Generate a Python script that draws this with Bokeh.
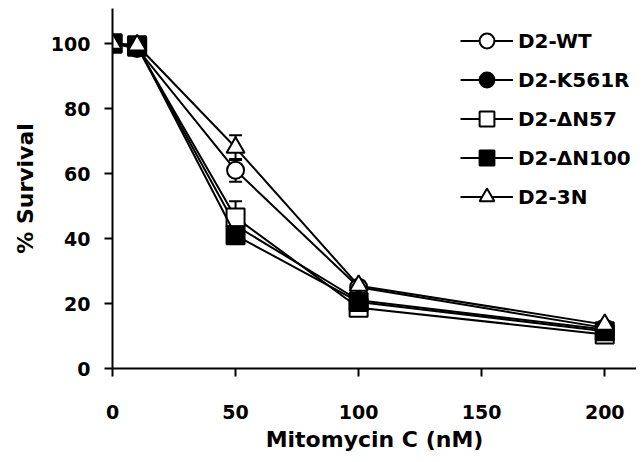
from bokeh.plotting import figure
from bokeh.models import (ColumnDataSource, Whisker, TeeHead, Legend, LegendItem,
                          Range1d, FixedTicker)
from bokeh.embed import file_html
from bokeh.resources import INLINE

# ---- data ----
dose = [0, 10, 50, 100, 200]
series_names = ["D2-WT", "D2-K561R", "D2-\u0394N57", "D2-\u0394N100", "D2-3N"]
wt = [100, 98.5, 61, 25, 12.5]
wt_err = [0, 0, 3.5, 1.5, 1]
k561r = [100, 99, 44, 21, 12]
k561r_err = [0, 0, 2, 1, 1]
dn57 = [100, 99, 46.5, 18.7, 10.5]
dn57_err = [0, 0, 5, 1, 1]
dn100 = [100, 99.5, 41, 20.5, 11.5]
dn100_err = [0, 0, 1, 1, 1]
tn = [100, 99.5, 68, 25.5, 13.5]
tn_err = [0, 0, 3.8, 1.5, 1]
x_ticks = [0, 50, 100, 150, 200]
y_ticks = [0, 20, 40, 60, 80, 100]

FONT = "DejaVu Sans"

p = figure(width=636, height=454, output_backend="svg", toolbar_location=None,
           x_range=Range1d(0, 212.9), y_range=Range1d(0, 110.8),
           min_border_left=112, min_border_right=0, min_border_top=8,
           min_border_bottom=85)
p.outline_line_color = None
p.xgrid.visible = False
p.ygrid.visible = False
p.background_fill_color = "white"
p.border_fill_color = "white"

for ax in (p.xaxis[0], p.yaxis[0]):
    ax.axis_line_width = 2
    ax.axis_line_color = "black"
    ax.major_tick_line_width = 2
    ax.major_tick_line_color = "black"
    ax.major_tick_in = 0
    ax.major_tick_out = 8
    ax.minor_tick_line_color = None
    ax.major_label_text_font = FONT
    ax.major_label_text_font_style = "bold"
    ax.major_label_text_font_size = "19px"
    ax.major_label_text_color = "black"
    ax.axis_label_text_font = FONT
    ax.axis_label_text_font_style = "bold"
    ax.axis_label_text_font_size = "22px"
    ax.axis_label_text_color = "black"

p.xaxis.ticker = FixedTicker(ticks=x_ticks)
p.yaxis.ticker = FixedTicker(ticks=y_ticks)
p.xaxis.axis_label = "Mitomycin C (nM)"
p.yaxis.axis_label = "% Survival"
p.xaxis.major_label_standoff = 28
p.xaxis.axis_label_standoff = 5
p.yaxis.major_label_standoff = 14
p.yaxis.axis_label_standoff = 10

specs = [
    (wt, wt_err, "circle", "white", 17),
    (k561r, k561r_err, "circle", "black", 17),
    (dn57, dn57_err, "square", "white", 18),
    (dn100, dn100_err, "square", "black", 18),
    (tn, tn_err, "triangle", "white", 18),
]

items = []
for name, (vals, errs, marker, fill, size) in zip(series_names, specs):
    src = ColumnDataSource(dict(x=dose, y=vals,
                                upper=[v + e for v, e in zip(vals, errs)],
                                lower=[v - e for v, e in zip(vals, errs)]))
    w = Whisker(source=src, base="x", upper="upper", lower="lower",
                line_width=2, line_color="black",
                upper_head=TeeHead(size=13, line_width=2, line_color="black"),
                lower_head=TeeHead(size=13, line_width=2, line_color="black"))
    p.add_layout(w)
    lr = p.line("x", "y", source=src, line_color="black", line_width=2)
    sr = p.scatter("x", "y", source=src, marker=marker, size=size,
                   fill_color=fill, line_color="black", line_width=2)
    items.append(LegendItem(label=name, renderers=[lr, sr]))

legend = Legend(items=items, location=(348, 153),
                glyph_width=53, glyph_height=37, label_height=37,
                spacing=2, padding=0, margin=0, label_standoff=5,
                border_line_color=None, background_fill_alpha=0,
                label_text_font=FONT, label_text_font_style="bold",
                label_text_font_size="20px", label_text_color="black",
                label_text_baseline="middle")
p.add_layout(legend)

open("out.html", "w").write(file_html(p, INLINE))
